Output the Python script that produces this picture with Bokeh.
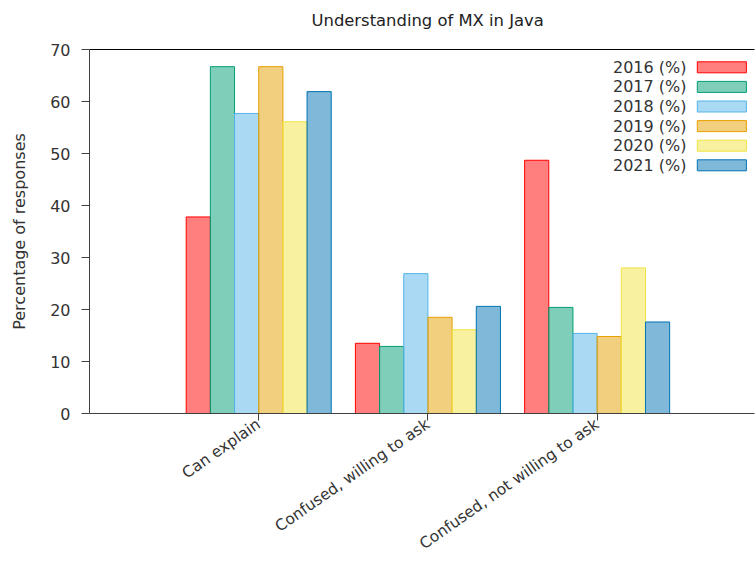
import math
from bokeh.plotting import figure
from bokeh.models import Range1d, FixedTicker, LinearAxis
from bokeh.embed import file_html
from bokeh.resources import INLINE
from bokeh.core.properties import value

# ---- data ----
categories = ["Can explain", "Confused, willing to ask", "Confused, not willing to ask"]
series_names = ["2016 (%)", "2017 (%)", "2018 (%)", "2019 (%)", "2020 (%)", "2021 (%)"]
v2016 = [37.8, 13.5, 48.7]
v2017 = [66.7, 12.9, 20.4]
v2018 = [57.7, 26.9, 15.4]
v2019 = [66.7, 18.5, 14.8]
v2020 = [56.1, 16.1, 28.0]
v2021 = [61.9, 20.6, 17.6]
y_ticks = [0, 10, 20, 30, 40, 50, 60, 70]

series_values = [v2016, v2017, v2018, v2019, v2020, v2021]
colors = ["#ff0000", "#009e73", "#56b4e9", "#e69f00", "#f0e442", "#0072b2"]

FONT = "DejaVu Sans"
TXT = "#333333"

X0, X1 = -1.0, 2.93
Y0, Y1 = 0, 70
FRAME_W, FRAME_H = 665, 364
px_x = FRAME_W / (X1 - X0)
px_y = FRAME_H / (Y1 - Y0)

p = figure(width=755, height=566,
           x_range=Range1d(X0, X1), y_range=Range1d(Y0, Y1),
           output_backend="svg", toolbar_location=None,
           min_border_left=89, min_border_right=1,
           min_border_top=49, min_border_bottom=153)
p.xgrid.visible = False
p.ygrid.visible = False
p.outline_line_color = None
p.background_fill_color = "white"
p.border_fill_color = "white"

p.title.text = "Understanding of MX in Java\n "
p.title.align = "left"
p.title.offset = 222
p.title.standoff = 2
p.title.text_font = FONT
p.title.text_font_size = "16.4px"
p.title.text_font_style = "normal"
p.title.text_color = "#222222"

n = len(series_values)
bw = 1.0 / (n + 1)
for j, (vals, c) in enumerate(zip(series_values, colors)):
    xs = [i + (j - (n - 1) / 2) * bw for i in range(len(categories))]
    p.vbar(x=xs, top=vals, bottom=0, width=bw,
           fill_color=c, fill_alpha=0.5, line_color=c, line_width=1)

# y axis
ya = p.yaxis[0]
ya.ticker = FixedTicker(ticks=y_ticks)
ya.axis_label = "Percentage of responses"
ya.axis_label_text_font = FONT
ya.axis_label_text_font_size = "16px"
ya.axis_label_text_font_style = "normal"
ya.axis_label_text_color = TXT
ya.axis_label_standoff = 18
ya.major_label_text_font = FONT
ya.major_label_text_font_size = "16px"
ya.major_label_text_color = TXT
ya.major_label_standoff = 11
ya.major_tick_out = 8
ya.major_tick_in = 0
ya.minor_tick_line_color = None
ya.axis_line_color = "#404040"
ya.major_tick_line_color = "#404040"

# x axis with rotated category labels
xa = p.xaxis[0]
xa.ticker = FixedTicker(ticks=list(range(len(categories))))
xa.major_label_overrides = {i: c for i, c in enumerate(categories)}
xa.major_label_orientation = math.radians(35)
xa.major_label_text_font = FONT
xa.major_label_text_font_size = "15.5px"
xa.major_label_text_color = TXT
xa.major_label_standoff = 2
xa.major_tick_out = 7
xa.major_tick_in = 0
xa.minor_tick_line_color = None
xa.axis_line_color = "#404040"
xa.major_tick_line_color = "#404040"

# top border line
top = LinearAxis(ticker=FixedTicker(ticks=[]), major_label_text_font_size="1px",
                 axis_line_color="black", major_tick_line_color=None,
                 minor_tick_line_color=None)
p.add_layout(top, "above")

# legend (label then swatch, gnuplot style)
row0 = 17.8  # px below frame top
step = 19.6
text_right = 2.528
sw_l, sw_r = 2.592, 2.882
ys = [Y1 - (row0 + k * step) / px_y for k in range(n)]
p.text(x=[text_right] * n, y=ys, text=series_names, text_align="right",
       text_baseline="middle", text_font=value(FONT), text_font_size="16px",
       text_color=TXT)
half = 5.5 / px_y
p.quad(left=[sw_l] * n, right=[sw_r] * n, top=[y + half for y in ys],
       bottom=[y - half for y in ys], fill_color=colors, fill_alpha=0.5,
       line_color=colors, line_width=1)

open("out.html", "w").write(file_html(p, INLINE))
